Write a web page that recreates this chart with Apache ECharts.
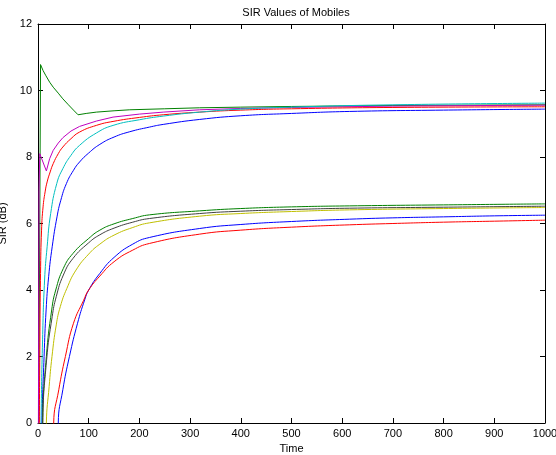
<!DOCTYPE html>
<html><head><meta charset="utf-8">
<script src="https://cdn.jsdelivr.net/npm/echarts@6/dist/echarts.min.js"></script>
<style>html,body{margin:0;padding:0;background:#fff}#c{width:556px;height:455px}</style>
</head><body><div id="c"></div>
<script>
const titleText = 'SIR Values of Mobiles';
const xName = 'Time';
const yName = 'SIR (dB)';
const xTicks = [0,100,200,300,400,500,600,700,800,900,1000];
const yTicks = [0,2,4,6,8,10,12];

// upper group
const tGreenU = [0, 5, 10, 15, 23, 30, 40, 49, 60, 70, 79, 95, 115, 150, 181, 250, 319, 400, 500, 700, 1000];
const vGreenU = [-5, 10.78, 10.6, 10.46, 10.25, 10.1, 9.92, 9.75, 9.57, 9.41, 9.27, 9.31, 9.35, 9.39, 9.42, 9.45, 9.48, 9.5, 9.52, 9.55, 9.57];
const tMagU = [0, 2, 3.5, 16.5, 23, 30, 40, 49, 65, 82, 115, 148, 200, 247, 319, 400, 500, 700, 1000];
const vMagU = [-5, 7.0, 8.1, 7.58, 7.95, 8.2, 8.42, 8.58, 8.78, 8.92, 9.08, 9.2, 9.29, 9.35, 9.42, 9.46, 9.49, 9.53, 9.56];
const tRedU = [2, 3.5, 5, 7, 10, 14, 18, 24, 30, 40, 49, 65, 82, 115, 148, 200, 247, 319, 400, 500, 700, 1000];
const vRedU = [-2, 2, 4.5, 5.8, 6.5, 6.95, 7.25, 7.55, 7.8, 8.1, 8.3, 8.55, 8.75, 8.95, 9.07, 9.19, 9.27, 9.35, 9.41, 9.45, 9.49, 9.51];
const tCyanU = [5, 6, 9, 13, 18, 25, 37, 49, 65, 82, 115, 148, 200, 247, 319, 400, 500, 700, 1000];
const vCyanU = [-2, 0, 2.5, 4.3, 5.3, 6.3, 7.2, 7.65, 8.05, 8.35, 8.72, 8.95, 9.12, 9.23, 9.35, 9.44, 9.5, 9.57, 9.62];
const tBlueU = [7, 8, 12, 16, 21, 28, 37.5, 45, 56, 70, 82, 100, 122, 150, 181, 220, 247, 319, 400, 500, 614, 800, 1000];
const vBlueU = [-2, 0, 2, 3.4, 4.4, 5.3, 6.2, 6.7, 7.2, 7.6, 7.85, 8.12, 8.38, 8.6, 8.76, 8.9, 8.98, 9.13, 9.24, 9.31, 9.37, 9.41, 9.44];

// lower group
const tGreenL = [8, 9, 16.5, 27, 35, 50, 69, 100, 122, 150, 187, 220, 319, 400, 500, 614, 800, 1000];
const vGreenL = [-2, 0, 2, 3.4, 4.0, 4.65, 5.1, 5.55, 5.8, 5.99, 6.15, 6.26, 6.38, 6.45, 6.5, 6.53, 6.56, 6.59];
const tBlackL = [8.5, 9.5, 17, 28, 36, 50, 69, 100, 122, 150, 187, 220, 319, 400, 500, 614, 800, 1000];
const vBlackL = [-2, 0, 1.9, 3.2, 3.8, 4.45, 4.95, 5.42, 5.66, 5.86, 6.04, 6.15, 6.3, 6.37, 6.42, 6.46, 6.49, 6.52];
const tYellowL = [15, 16.5, 22, 27.6, 36, 44, 57, 75, 100, 122, 150, 187, 220, 319, 400, 500, 614, 800, 1000];
const vYellowL = [-2, 0, 1.1, 2, 2.95, 3.5, 4.05, 4.6, 5.08, 5.38, 5.65, 5.88, 6.02, 6.22, 6.3, 6.36, 6.41, 6.45, 6.48];
const tBlueL = [39, 40, 49, 62, 78, 92, 100, 122, 150, 187, 220, 319, 400, 500, 614, 700, 800, 900, 1000];
const vBlueL = [-2, 0, 1, 2, 3, 3.7, 4.0, 4.5, 4.98, 5.38, 5.58, 5.85, 5.97, 6.06, 6.13, 6.17, 6.2, 6.23, 6.25];
const tRedL = [30, 31, 41, 54, 70, 90, 100, 122, 150, 187, 220, 319, 400, 500, 614, 700, 800, 900, 1000];
const vRedL = [-2, 0, 1, 2, 3, 3.69, 4.0, 4.42, 4.85, 5.2, 5.4, 5.68, 5.8, 5.89, 5.96, 6.0, 6.04, 6.07, 6.1];

const seriesDefs = [
  ['upper green', tGreenU, vGreenU, '#008000', false],
  ['upper magenta', tMagU, vMagU, '#bf00bf', false],
  ['upper red', tRedU, vRedU, '#ff0000', 0.5],
  ['upper cyan', tCyanU, vCyanU, '#00bfbf', 0.5],
  ['upper blue', tBlueU, vBlueU, '#0000ff', 0.5],
  ['lower green', tGreenL, vGreenL, '#008000', 0.5],
  ['lower black', tBlackL, vBlackL, '#404040', 0.5],
  ['lower yellow', tYellowL, vYellowL, '#bfbf00', 0.5],
  ['lower blue', tBlueL, vBlueL, '#0000ff', 0.5],
  ['lower red', tRedL, vRedL, '#ff0000', 0.5]
];

const font = 'Liberation Sans, Arial, Helvetica, sans-serif';
const chart = echarts.init(document.getElementById('c'), null, {renderer: 'canvas'});
const axisCommon = {
  axisLine: {show: true, onZero: false, lineStyle: {color: '#000', width: 1}},
  axisTick: {show: true, inside: true, length: 5, lineStyle: {color: '#000'}},
  splitLine: {show: false}
};
chart.setOption({
  animation: false,
  title: {text: titleText, left: 291, textAlign: 'center', top: 2,
    textStyle: {fontFamily: font, fontSize: 11, fontWeight: 'normal', color: '#000'}},
  grid: {left: 38, right: 11, top: 24, bottom: 32, containLabel: false, outerBoundsMode: 'none'},
  xAxis: [
    Object.assign({type: 'value', min: 0, max: 1000, interval: 100, position: 'bottom',
      name: xName, nameLocation: 'middle', nameGap: 17,
      nameTextStyle: {fontFamily: font, fontSize: 11, color: '#000'},
      axisLabel: {fontFamily: font, fontSize: 11, color: '#000', margin: 5,
        formatter: v => String(v)}}, axisCommon),
    Object.assign({type: 'value', min: 0, max: 1000, interval: 100, position: 'top',
      axisLabel: {show: false}}, axisCommon)
  ],
  yAxis: [
    Object.assign({type: 'value', min: 0, max: 12, interval: 2, position: 'left',
      name: yName, nameLocation: 'middle', nameGap: 20,
      nameTextStyle: {fontFamily: font, fontSize: 11, color: '#000'},
      axisLabel: {fontFamily: font, fontSize: 11, color: '#000', margin: 6,
        formatter: v => String(v)}}, axisCommon),
    Object.assign({type: 'value', min: 0, max: 12, interval: 2, position: 'right',
      axisLabel: {show: false}}, axisCommon)
  ],
  series: seriesDefs.map(([name, ts, vs, color, sm]) => ({
    name, type: 'line', xAxisIndex: 0, yAxisIndex: 0,
    data: ts.map((t, i) => [t, vs[i]]),
    showSymbol: false, smooth: sm, clip: true,
    lineStyle: {color, width: 1}, itemStyle: {color}
  }))
});
</script></body></html>
